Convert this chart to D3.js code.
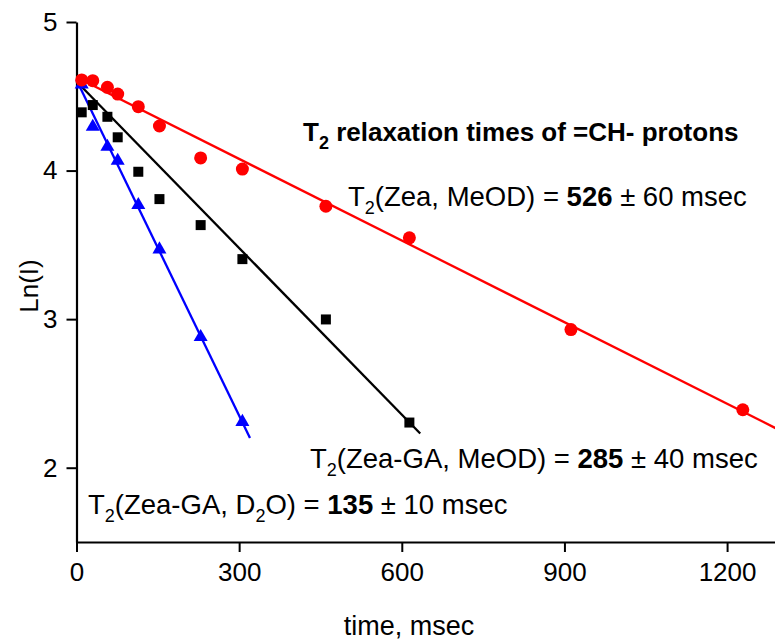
<!DOCTYPE html>
<html>
<head>
<meta charset="utf-8">
<script src="https://cdn.jsdelivr.net/npm/d3@7"></script>
<style>
html,body{margin:0;padding:0;background:#fff;}
svg{display:block;font-family:"Liberation Sans",Arial,sans-serif;}
</style>
</head>
<body>
<svg id="chart" width="775" height="643"></svg>
<script>
// ---- data ----
const timeZea = [9.6, 30, 57, 76, 114, 153, 229, 306, 460, 614, 912, 1229];
const lnZeaMeOD = [4.61, 4.605, 4.56, 4.515, 4.43, 4.30, 4.085, 4.01, 3.76, 3.547, 2.93, 2.39];
const timeGAMeOD = [9.6, 30, 57, 76, 114, 153, 229, 306, 460, 614];
const lnZeaGAMeOD = [4.392, 4.441, 4.362, 4.224, 3.992, 3.808, 3.633, 3.404, 2.998, 2.304];
const timeGAD2O = [9.6, 30, 57, 76, 114, 153, 229, 306];
const lnZeaGAD2O = [4.58, 4.295, 4.16, 4.066, 3.768, 3.469, 2.88, 2.308];
// fitted lines (endpoints: time, Ln(I))
const fitZeaMeOD = [[0, 4.628], [1300, 2.247]];
const fitZeaGAMeOD = [[0, 4.60], [634, 2.23]];
const fitZeaGAD2O = [[0, 4.61], [320, 2.20]];
const xMajor = [0, 300, 600, 900, 1200];
const xMinor = [150, 450, 750, 1050];
const yMajor = [2, 3, 4, 5];
const yMinor = [1.5, 2.5, 3.5, 4.5];

const svg = d3.select("#chart");
const x = d3.scaleLinear().domain([0, 1300]).range([76.5, 781.3]);
const y = d3.scaleLinear().domain([1.5, 5]).range([542, 22]);
const FS = 26;
const FA = 27.5;

// axes
const gx = svg.append("g").attr("transform", `translate(0,${y(1.5)})`);
gx.call(d3.axisBottom(x).tickValues(xMinor).tickSize(6).tickSizeOuter(0).tickFormat(""));
gx.call(d3.axisBottom(x).tickValues(xMajor).tickSize(10).tickPadding(11).tickSizeOuter(0).tickFormat(d3.format("d")));
const gy = svg.append("g").attr("transform", `translate(${x(0)},0)`);
gy.call(d3.axisLeft(y).tickValues(yMinor).tickSize(6).tickSizeOuter(0).tickFormat(""));
gy.call(d3.axisLeft(y).tickValues(yMajor).tickSize(10).tickPadding(9).tickSizeOuter(0).tickFormat(d3.format("d")));
svg.selectAll(".domain").attr("stroke", "#000").attr("stroke-width", 2.2);
svg.selectAll(".tick line").attr("stroke", "#000").attr("stroke-width", 2);
svg.selectAll(".tick text").attr("font-size", FS).attr("font-family", '"Liberation Sans",Arial,sans-serif').attr("fill", "#000");

// axis titles
svg.append("text").attr("x", 409).attr("y", 635).attr("text-anchor", "middle")
  .attr("font-size", 27).text("time, msec");
svg.append("text").attr("transform", "translate(38,286) rotate(-90)").attr("text-anchor", "middle")
  .attr("font-size", FS).text("Ln(I)");

// fit lines
const line = d3.line().x(d => x(d[0])).y(d => y(d[1]));
[[fitZeaMeOD, "#ff0000"], [fitZeaGAMeOD, "#000000"], [fitZeaGAD2O, "#0000ff"]].forEach(([d, c]) => {
  svg.append("path").datum(d).attr("d", line).attr("fill", "none").attr("stroke", c).attr("stroke-width", 2.3);
});

// markers
function pts(ts, vs) { return ts.map((t, i) => [t, vs[i]]); }
svg.append("g").selectAll("path").data(pts(timeGAMeOD, lnZeaGAMeOD)).join("path")
  .attr("transform", d => `translate(${x(d[0])},${y(d[1])})`)
  .attr("d", d3.symbol(d3.symbolSquare, 100)).attr("fill", "#000");
svg.append("g").selectAll("path").data(pts(timeGAD2O, lnZeaGAD2O)).join("path")
  .attr("transform", d => `translate(${x(d[0])},${y(d[1])})`)
  .attr("d", d3.symbol(d3.symbolTriangle, 85)).attr("fill", "#0000ff");
svg.append("g").selectAll("circle").data(pts(timeZea, lnZeaMeOD)).join("circle")
  .attr("cx", d => x(d[0])).attr("cy", d => y(d[1])).attr("r", 6.5).attr("fill", "#ff0000");

// annotations
function annot(xp, yp, parts, bold, fs) {
  const t = svg.append("text").attr("x", xp).attr("y", yp).attr("font-size", fs)
    .attr("font-weight", bold ? "bold" : "normal");
  parts.forEach(p => {
    const s = t.append("tspan").text(p.t);
    if (p.sub) s.attr("font-size", 18).attr("dy", 8);
    if (p.up) s.attr("dy", -8);
    if (p.b) s.attr("font-weight", "bold");
  });
}
annot(303, 141, [{t: "T"}, {t: "2", sub: true}, {t: " relaxation times of =CH- protons", up: true}], true, FS);
annot(348, 206, [{t: "T"}, {t: "2", sub: true}, {t: "(Zea, MeOD) = ", up: true}, {t: "526", b: true}, {t: " \u00b1 60 msec"}], false, FA);
annot(310, 468, [{t: "T"}, {t: "2", sub: true}, {t: "(Zea-GA, MeOD) = ", up: true}, {t: "285", b: true}, {t: " \u00b1 40 msec"}], false, FA);
annot(88, 514, [{t: "T"}, {t: "2", sub: true}, {t: "(Zea-GA, D", up: true}, {t: "2", sub: true}, {t: "O) = ", up: true}, {t: "135", b: true}, {t: " \u00b1 10 msec"}], false, FA);
</script>
</body>
</html>
